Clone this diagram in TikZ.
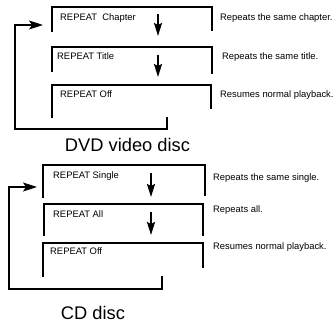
\documentclass[tikz,border=0pt]{standalone}
\usepackage{fontspec}
\setmainfont{Liberation Sans}
\usetikzlibrary{arrows.meta}
\begin{document}
\begin{tikzpicture}[x=1pt,y=-1pt,
  brk/.style={line width=1.3pt},
  ret/.style={line width=1.3pt,-{Stealth[length=14pt,width=9pt,inset=3pt]}},
  dn/.style={line width=2pt,-{Stealth[length=13pt,width=8pt,inset=2pt]}},
  lbl/.style={font=\fontsize{9.4}{10}\selectfont,anchor=west,inner sep=0pt},
  ttl/.style={font=\fontsize{18.3}{20}\selectfont,inner sep=0pt}]
\useasboundingbox (0,0) rectangle (336,326);
% ---------- DVD ----------
\draw[brk] (52,32) |- (212,7) -- (212,31);
\draw[brk] (52,72) |- (212,47) -- (212,74);
\draw[brk] (52,118) |- (211,85) -- (211,109);
\node[lbl] (d1) at (60,18) {REPEAT\ \ Chapter};
\node[lbl] (d2) at (57,56) {REPEAT Title};
\node[lbl] (d3) at (60,94) {REPEAT Off};
\node[lbl] (dr1) at (220,18) {Repeats the same chapter.};
\node[lbl] (dr2) at (222,57) {Repeats the same title.};
\node[lbl] (dr3) at (220,95) {Resumes normal playback.};
\coordinate (da1s) at (158,14); \coordinate (da1e) at (158,36);
\coordinate (da2s) at (158,55); \coordinate (da2e) at (158,77);
\draw[dn] (da1s) -- (da1e);
\draw[dn] (da2s) -- (da2e);
\coordinate (drs) at (167,117); \coordinate (dre) at (43,25);
\draw[ret] (drs) |- (15,129) |- (dre);
\node[ttl] (dt) at (127.5,145) {DVD video disc};
% ---------- CD ----------
\draw[brk] (43,198) |- (205,165) -- (205,196);
\draw[brk] (44,236) |- (203,204) -- (203,236);
\draw[brk] (43,277) |- (203,243) -- (203,268);
\node[lbl] (c1) at (53,176) {REPEAT Single};
\node[lbl] (c2) at (53,214) {REPEAT All};
\node[lbl] (c3) at (50,251) {REPEAT Off};
\node[lbl] (cr1) at (213,178) {Repeats the same single.};
\node[lbl] (cr2) at (213,210) {Repeats all.};
\node[lbl] (cr3) at (213,247) {Resumes normal playback.};
\coordinate (ca1s) at (151,173); \coordinate (ca1e) at (151,197);
\coordinate (ca2s) at (151,212); \coordinate (ca2e) at (151,235);
\draw[dn] (ca1s) -- (ca1e);
\draw[dn] (ca2s) -- (ca2e);
\coordinate (crs) at (162,276); \coordinate (cre) at (37,187);
\draw[ret] (crs) |- (9,289) |- (cre);
\node[ttl] (ct) at (93,313) {CD disc};
\end{tikzpicture}
\end{document}
